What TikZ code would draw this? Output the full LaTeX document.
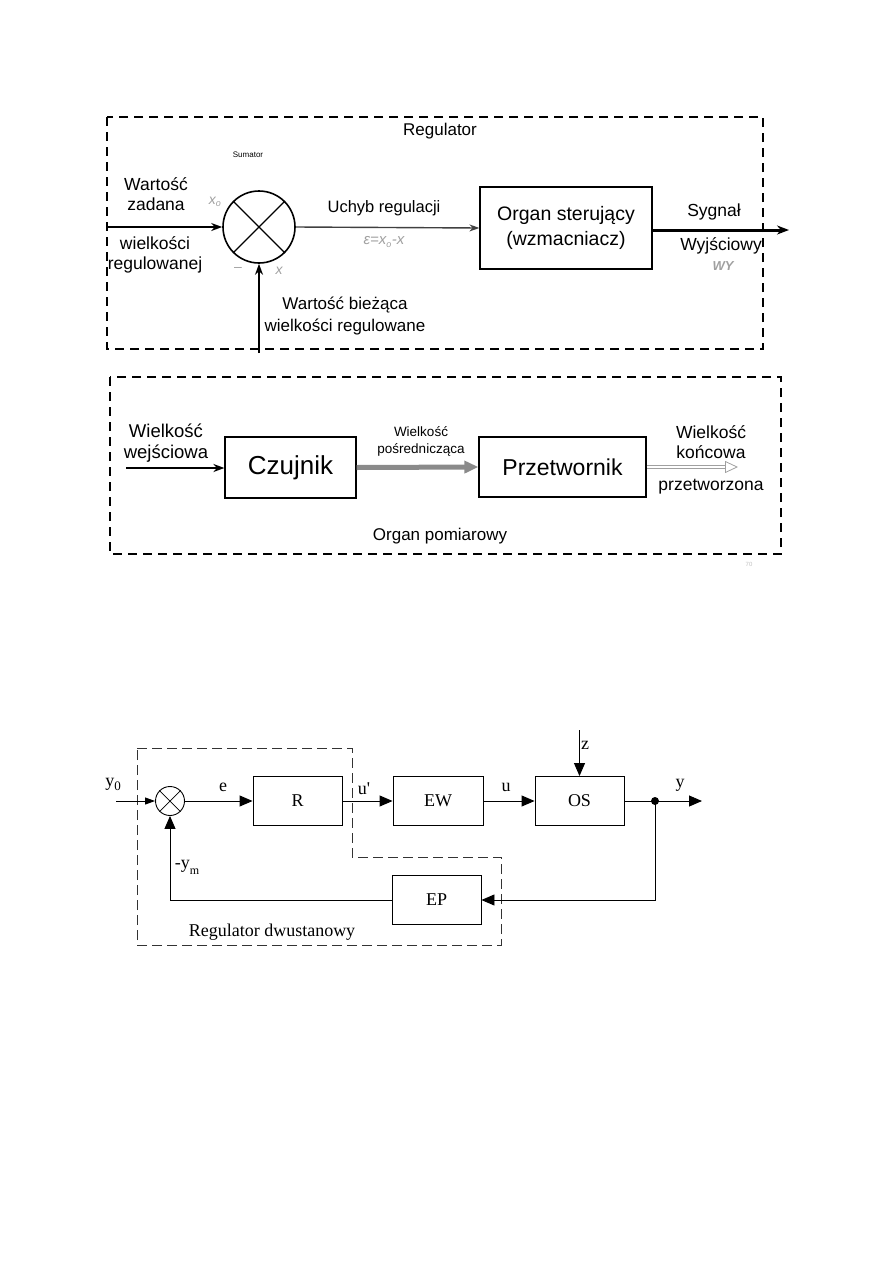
\documentclass[tikz,border=0pt]{standalone}
\usepackage{fontspec}
\setmainfont{Liberation Serif}
\newfontfamily\arial{Liberation Sans}
\usetikzlibrary{arrows.meta}
\definecolor{lgray}{HTML}{A0A0A0}
\definecolor{mgray}{HTML}{8A8A8A}
\definecolor{dgray}{HTML}{404040}
\begin{document}
\begin{tikzpicture}[x=1pt,y=-1pt,
  dbox/.style={draw, line width=1.8pt, dash pattern=on 9pt off 6pt},
  dbox2/.style={draw, line width=0.9pt, dash pattern=on 10pt off 5pt, draw=black!80},
  sans/.style={font=\arial\fontsize{17.5}{20}\selectfont, inner sep=0pt, align=center},
  grl/.style={font=\arial\itshape\fontsize{14}{16}\selectfont, text=lgray, inner sep=0pt},
  bigbox/.style={draw, line width=1.2pt, inner sep=0pt},
  arr/.style={line width=1.8pt, -{Stealth[length=11pt,width=8pt]}},
  serif/.style={font=\fontsize{18}{20}\selectfont, inner sep=0pt},
  sbox/.style={draw, line width=0.9pt, inner sep=0pt, minimum width=89pt, minimum height=49pt, font=\fontsize{18}{20}\selectfont},
  tarr/.style={line width=0.9pt, -{Triangle[length=13pt,width=11pt]}}
]
\useasboundingbox (0,0) rectangle (893,1263);

% ================= Regulator =================
\draw[dbox] (107,117) rectangle (763,349);
\node[sans, font=\arial\fontsize{17}{19}\selectfont] (reglbl) at (440,131) {Regulator};
\node[sans, font=\arial\fontsize{8}{9}\selectfont] (sumlbl) at (248,155) {Sumator};
\node[circle, draw, line width=1.6pt, minimum size=72pt, inner sep=0pt] (sum) at (259,227) {};
\draw[line width=1.3pt] (sum.north west) -- (sum.south east) (sum.north east) -- (sum.south west);
\coordinate (inL) at (107,227);
\draw[arr] (inL) -- (sum.west);
\node[sans, align=center] (wz) at (156,194) {Wartość\\zadana};
\node[sans, align=center] (wr) at (155,255) {wielkości\\regulowanej};
\node[grl] (xo) at (215,202) {x\textsubscript{\fontsize{9}{10}\selectfont o}};
\node[grl, font=\arial\fontsize{14}{16}\selectfont] (minus) at (238,269) {–};
\node[grl] (xx) at (279,271) {x};
\coordinate (fbB) at (259,353);
\draw[arr] (fbB) -- (sum.south);
\node[sans, align=center, font=\arial\fontsize{17}{22}\selectfont] (wb) at (345,316) {Wartość bieżąca\\wielkości regulowane};
\node[bigbox, minimum width=172pt, minimum height=82pt, align=center, font=\arial\fontsize{19.5}{25}\selectfont] (org) at (566,228) {Organ sterujący\\(wzmacniacz)};
\draw[line width=1.4pt, draw=dgray, -{Stealth[length=10pt,width=7pt]}] (sum.east) -- (org.west);
\node[sans, font=\arial\fontsize{16.5}{19}\selectfont] (uch) at (384,208) {Uchyb regulacji};
\node[grl, font=\arial\itshape\fontsize{15}{16}\selectfont] (eps) at (384,242) {ε=x\textsubscript{\fontsize{9}{10}\selectfont o}-x};
\coordinate (outR) at (789,230);
\draw[line width=3pt, -{Stealth[length=12pt,width=9pt]}] (org.east |- outR) -- (outR);
\node[sans] (syg) at (714,212) {Sygnał};
\node[sans] (wyj) at (721,246) {Wyjściowy};
\node[grl, font=\arial\itshape\bfseries\fontsize{13}{15}\selectfont] (wy) at (723,266) {WY};

% ================= Organ pomiarowy =================
\draw[dbox] (110,377) rectangle (781,554);
\node[bigbox, minimum width=131pt, minimum height=61pt, font=\arial\fontsize{26}{28}\selectfont] (cz) at (290.5,467.5) {Czujnik};
\node[bigbox, minimum width=167pt, minimum height=60pt, font=\arial\fontsize{23}{26}\selectfont] (pr) at (562.5,467) {Przetwornik};
\coordinate (inC) at (126,468);
\draw[line width=2.2pt, -{Stealth[length=11pt,width=8pt]}] (inC) -- (cz.west |- inC);
\node[sans, font=\arial\fontsize{18.5}{21}\selectfont] (ww) at (166,443) {Wielkość\\wejściowa};
\draw[line width=5pt, draw=mgray, -{Triangle[length=14pt,width=12pt]}] (cz.east) -- (pr.west);
\node[sans, font=\arial\fontsize{13.5}{17}\selectfont] (wp) at (421,441) {Wielkość\\pośrednicząca};
\coordinate (outP) at (738,467);
\draw[line width=0.7pt, draw=lgray, double=white, double distance=2.2pt, -{Triangle[open, length=13pt, width=12pt, line width=0.8pt]}] (pr.east) -- (outP);
\node[sans] (wk) at (711,442) {Wielkość\\końcowa};
\node[sans] (prz) at (711,487) {przetworzona};
\node[sans, font=\arial\fontsize{17}{19}\selectfont] (opl) at (440,536) {Organ pomiarowy};
\node[sans, font=\arial\fontsize{6}{7}\selectfont, text=black!25] (pg) at (749,564) {70};

% ================= Regulator dwustanowy =================
\draw[dbox2] (137,748) -- (352,748) -- (352,857) -- (501,857) -- (501,945) -- (137,945) -- cycle;
\node[circle, draw, line width=0.9pt, minimum size=29pt, inner sep=0pt] (s2) at (170,801) {};
\draw[line width=0.7pt] (s2.north west) -- (s2.south east) (s2.north east) -- (s2.south west);
\node[sbox] (R) at (297.5,801) {R};
\node[sbox, minimum width=90pt] (EW) at (438,801) {EW};
\node[sbox] (OS) at (579.5,801) {OS};
\node[sbox] (EP) at (436.5,900) {EP};
\coordinate (y0in) at (116,801);
\draw[line width=0.9pt, -{Triangle[length=10pt,width=7pt]}] (y0in) -- (s2.west);
\node[serif] (y0) at (113,784) {y\raisebox{-4pt}{\fontsize{13}{14}\selectfont 0}};
\draw[tarr] (s2.east) -- (R.west);
\node[serif] (e) at (223,787) {e};
\draw[tarr] (R.east) -- (EW.west);
\node[serif] (up) at (364,789) {u\textquotesingle};
\draw[tarr] (EW.east) -- (OS.west);
\node[serif] (u) at (506,787) {u};
\coordinate (zt) at (579.5,730);
\draw[tarr] (zt) -- (OS.north);
\node[serif] (z) at (585,745) {z};
\coordinate (dot) at (655,801);
\fill (dot) circle (4pt);
\coordinate (yout) at (702,801);
\draw[line width=0.9pt] (OS.east) -- (dot);
\draw[tarr] (dot) -- (yout);
\node[serif] (y) at (680,785) {y};
\draw[tarr] (dot) |- (EP.east);
\draw[tarr] (EP.west) -| (s2.south);
\node[serif] (ym) at (187,867) {-y\raisebox{-6pt}{\fontsize{12}{14}\selectfont m}};
\node[serif] (rd) at (272,932) {Regulator dwustanowy};
\end{tikzpicture}
\end{document}
